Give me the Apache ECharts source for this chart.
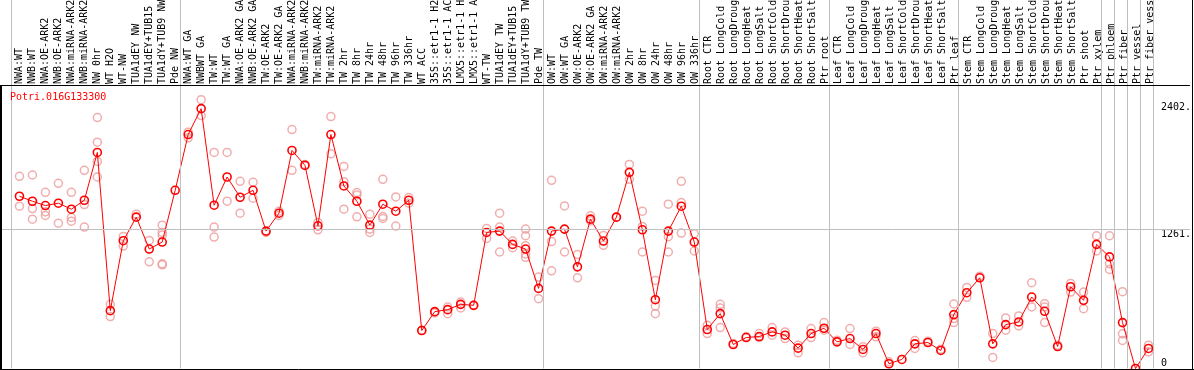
<!DOCTYPE html>
<html>
<head>
<meta charset="utf-8">
<script src="https://cdn.jsdelivr.net/npm/echarts@6/dist/echarts.min.js"></script>
<style>
html,body{margin:0;padding:0;background:#fff;}
#chart{width:1194px;height:370px;}
</style>
</head>
<body>
<div id="chart"></div>
<script>
const geneId = 'Potri.016G133300';

const categories = [
  'NWA:WT','NWB:WT','NWA:OE-ARK2','NWB:OE-ARK2','NWA:miRNA-ARK2','NWB:miRNA-ARK2','NW 0hr','WT H2O','WT-NW',
  'TUA1dEY NW','TUA1dEY+TUB15','TUA1dY+TUB9 NW','Pde NW',
  'NWA:WT GA','NWBWT GA','TW:WT','TW:WT GA','NWA:OE-ARK2 GA','NWB:OE-ARK2 GA','TW:OE-ARK2','TW:OE-ARK2 GA',
  'NWA:miRNA-ARK2','NWB:miRNA-ARK2','TW:miRNA-ARK2','TW:miRNA-ARK2','TW 2hr','TW 8hr','TW 24hr','TW 48hr',
  'TW 96hr','TW 336hr','WT ACC','35S::etr1-1 H2O','35S::etr1-1 ACC','LMX5::etr1-1 H2O','LMX5::etr1-1 ACC',
  'WT-TW','TUA1dEY TW','TUA1dEY+TUB15','TUA1dY+TUB9 TW','Pde TW',
  'OW:WT','OW:WT GA','OW:OE-ARK2','OW:OE-ARK2 GA','OW:miRNA-ARK2','OW:miRNA-ARK2','OW 2hr','OW 8hr',
  'OW 24hr','OW 48hr','OW 96hr','OW 336hr',
  'Root CTR','Root LongCold','Root LongDrought','Root LongHeat','Root LongSalt','Root ShortCold',
  'Root ShortDrought','Root ShortHeat','Root ShortSalt','Ptr root',
  'Leaf CTR','Leaf LongCold','Leaf LongDrought','Leaf LongHeat','Leaf LongSalt','Leaf ShortCold',
  'Leaf ShortDrought','Leaf ShortHeat','Leaf ShortSalt','Ptr leaf',
  'Stem CTR','Stem LongCold','Stem LongDrought','Stem LongHeat','Stem LongSalt','Stem ShortCold',
  'Stem ShortDrought','Stem ShortHeat','Stem ShortSalt','Ptr shoot','Ptr xylem',
  'Ptr phloem','Ptr fiber','Ptr vessel','Ptr fiber vessel'
];

const means = [
  1557,1512,1473,1494,1440,1521,1953,523,1155,1368,1080,1143,1611,
  2115,2349,1476,1731,1548,1611,1242,1404,1971,1836,1290,2115,1650,1512,1296,1485,1422,1521,
  343,514,532,580,571,1230,1242,1122,1080,724,
  1242,1260,919,1350,1152,1368,1773,1254,622,1242,1467,1143,
  352,496,217,280,289,331,301,184,316,364,
  241,271,172,316,43,82,223,235,163,487,
  685,820,223,397,421,646,517,199,739,616,1122,
  1009,415,0,181
];

const replicates = [
  [1737,1467],[1749,1446,1350],[1593,1416,1383],[1674,1314],[1593,1365,1332],[1791,1482,1278],
  [2268,2046,1872,1731],[580,469],[1194,1107],[1395],[1158,964],[1296,1230,1206,937,946],[],
  [2136,2085],[2430,2286],[1953,1278,1188],[1953,1512],[1692,1404],[1683,1539],[1230],[1422,1383],
  [2160,1791],[1845],[1320,1254],[2277,1941],[1827,1689,1440],[1590,1569,1371],[1395,1260,1230],
  [1710,1374,1356],[1551,1287],[1545,1494],[346],[502],[556,496],[601,547],[571],[1266,1176],
  [1404,1278,1053],[1152,1092],[1260,1200,1110,1035,1005],[826,631],
  [1701,1147,883],[1470,1053],[1030,820],[1380,1335],[1203,1113],[1368],[1845,1710],[1422,1284,1053],
  [796,565,496],[1485,1191,1053],[1692,1500,1224],[1218,1062],
  [391,316],[580,547,370],[226],[289],[316,280],[370,301],[331,271],[211,142],[361,280],[415,346],
  [256],[361,217],[196,142],[337,286],[61],[],[253,181],[247],[175],[583,451,415],
  [733,643],[835],[316,100],[457,346],[475,385],[775,556],[586,556,415],[211],[769,691],[691,541],[1200,1062],
  [1200,946,895],[694,313,253],[],[211,151]
];

const yTickValues = [1261, 2402];
const yZeroTick = [0];
// index of last category in each group (separator drawn after it)
const groupEnds = [-1, 12, 40, 52, 62, 72, 83, 84, 85, 86, 87];

// ---- layout (pixels) ----
const W = 1194, H = 370;
const plotLeft = 1, plotRight = 1192;
const zeroY = 368.5, frameTop = 85;
const slot = 13, firstX = 19.5;
const pxPerUnit = (zeroY - 229) / 1261;      // vertical scale
const yMax = zeroY / pxPerUnit;              // value at y = 0
const frameTopValue = (zeroY - frameTop) / pxPerUnit;
const xMin = (plotLeft - firstX) / slot;
const xMax = (plotRight - firstX) / slot;
const sepOffset = 0.37;

const meanData = means.map((v, i) => [i, v]);
const repData = [];
replicates.forEach((arr, i) => arr.forEach(v => repData.push([i, v])));

const mono = 'DejaVu Sans Mono';
const chart = echarts.init(document.getElementById('chart'), null, {renderer: 'canvas'});

chart.setOption({
  animation: false,
  backgroundColor: '#ffffff',
  title: {
    text: geneId, left: 10, top: 92, padding: 0,
    textStyle: {color: '#ff0000', fontSize: 10, fontFamily: mono, fontWeight: 'normal'}
  },
  grid: [
    {left: plotLeft, right: W - plotRight, top: 0, bottom: H - zeroY},
    {left: firstX - slot / 2, width: slot * categories.length, top: frameTop, height: 1}
  ],
  xAxis: [
    {type: 'value', gridIndex: 0, min: xMin, max: xMax, show: false},
    {type: 'category', gridIndex: 1, position: 'top', data: categories,
     axisLine: {show: false}, axisTick: {show: false}, splitLine: {show: false},
     axisLabel: {interval: 0, rotate: 90, margin: 2, fontSize: 10, fontFamily: mono, color: '#000'}}
  ],
  yAxis: [
    {type: 'value', gridIndex: 0, min: 0, max: yMax, position: 'right', offset: -29,
     axisLine: {show: false}, axisTick: {show: false}, splitLine: {show: false},
     axisLabel: {customValues: yTickValues, margin: 0, verticalAlign: 'top', align: 'left',
                 fontSize: 10, fontFamily: mono, color: '#000', formatter: v => v + '.'}},
    {type: 'value', gridIndex: 0, min: 0, max: yMax, position: 'right', offset: -29,
     axisLine: {show: false}, axisTick: {show: false}, splitLine: {show: false},
     axisLabel: {customValues: yZeroTick, margin: 0, verticalAlign: 'bottom', align: 'left',
                 fontSize: 10, fontFamily: mono, color: '#000', formatter: v => String(v)}},
    {type: 'value', gridIndex: 1, show: false}
  ],
  series: [
    {
      type: 'scatter', xAxisIndex: 0, yAxisIndex: 0, data: [], z: 1, silent: true,
      markLine: {
        silent: true, symbol: 'none', animation: false,
        label: {show: false},
        lineStyle: {color: '#c0c0c0', width: 1, type: 'solid'},
        data: groupEnds.map(g => ({xAxis: g + sepOffset}))
          .concat([{yAxis: 1261}])
          .concat([{yAxis: frameTopValue, lineStyle: {color: '#000', width: 1, type: 'solid'}}])
      }
    },
    {
      type: 'scatter', xAxisIndex: 0, yAxisIndex: 0, data: repData, z: 2, clip: false,
      symbol: 'circle', symbolSize: 8,
      itemStyle: {color: 'rgba(0,0,0,0)', borderColor: '#ec9a9a', borderWidth: 1.5}
    },
    {
      type: 'line', xAxisIndex: 0, yAxisIndex: 0, data: meanData, z: 3, clip: false,
      symbol: 'circle', symbolSize: 8, showAllSymbol: true,
      lineStyle: {color: '#ff0000', width: 1},
      itemStyle: {color: 'rgba(0,0,0,0)', borderColor: '#ff0000', borderWidth: 1.6}
    }
  ],
  graphic: [
    {type: 'line', shape: {x1: 1, y1: frameTop, x2: 1, y2: H}, style: {stroke: '#000', lineWidth: 2}, z: 10},
    {type: 'line', shape: {x1: 0, y1: 369.5, x2: W, y2: 369.5}, style: {stroke: '#000', lineWidth: 1}, z: 10},
    {type: 'line', shape: {x1: 1192.5, y1: 0, x2: 1192.5, y2: H}, style: {stroke: '#000', lineWidth: 1}, z: 10}
  ]
});
</script>
</body>
</html>
